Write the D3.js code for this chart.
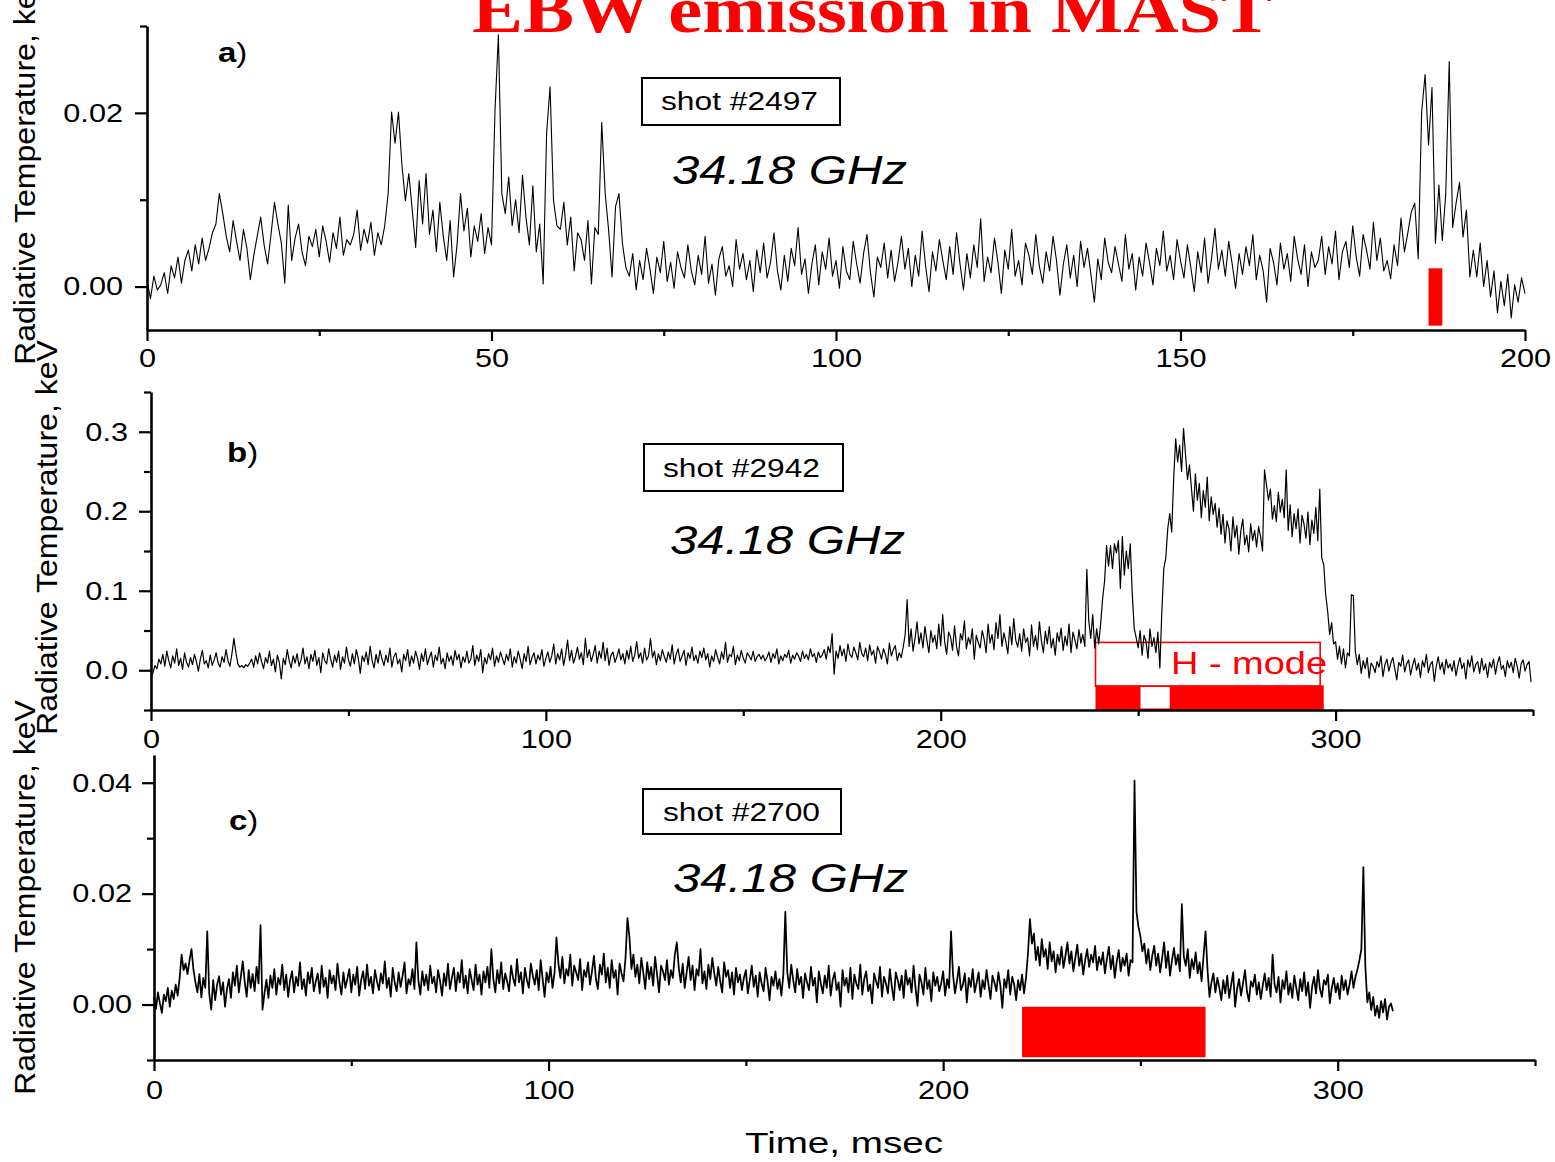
<!DOCTYPE html>
<html>
<head>
<meta charset="utf-8">
<script src="https://cdn.jsdelivr.net/npm/d3@7"></script>
<style>
  body { margin: 0; background: #fff; }
  svg { display: block; }
</style>
</head>
<body>
<svg id="chart" width="1555" height="1162"></svg>
<script>
const DT = 0.5;

// Shot #2497, radiative temperature in units of 1e-4 keV (t = 0 ... 200 msec)
const shot2497 = [
  8, -14, 12, -4, 2, 16, -8, 24, 10, 34, 4, 30, 42, 18, 48, 26, 56, 30, 44, 62,
  72, 107, 84, 58, 40, 76, 52, 30, 66, 44, 8, 36, 58, 80, 48, 26, 60, 97, 72, 50,
  4, 94, 30, 56, 72, 40, 24, 58, 46, 66, 34, 70, 52, 28, 62, 44, 80, 36, 54, 48,
  60, 88, 42, 66, 50, 74, 36, 62, 48, 70, 107, 201, 165, 201, 140, 99, 130, 88, 45, 122,
  72, 130, 60, 88, 40, 97, 58, 30, 76, 11, 48, 107, 64, 90, 34, 70, 52, 84, 38, 68,
  48, 201, 290, 107, 84, 126, 70, 100, 62, 128, 80, 48, 116, 40, 72, 3, 177, 230, 99, 70,
  66, 97, 48, 80, 18, 62, 54, 30, 76, 3, 68, 60, 189, 107, 65, 11, 92, 107, 50, 22,
  12, 38, -4, 30, 8, 44, 20, -8, 34, 16, 52, 6, 28, -2, 40, 22, 10, 48, 18, 2,
  36, 14, 58, 4, 26, -10, 32, 46, 12, 24, 0, 54, 20, 38, 8, 30, -6, 42, 16, 50,
  10, 28, 62, 18, -4, 36, 6, 44, 24, 68, 14, 32, -8, 26, 48, 2, 40, 20, 56, 12,
  30, -2, 46, 18, 8, 52, 26, 4, 38, 60, 16, -12, 34, 22, 50, 10, 42, 6, 28, 58,
  20, 44, 0, 36, 12, 64, 24, -6, 40, 18, 54, 30, 8, 46, 14, 62, 26, -4, 38, 10,
  48, 22, 78, 6, 34, 16, 56, 28, -8, 42, 20, 66, 12, 30, 2, 50, 36, 14, 60, 24,
  4, 40, 18, 58, 30, -10, 26, 48, 10, 36, 0, 52, 22, 44, 14, -18, 32, 8, 56, 28,
  16, 46, 26, 6, 60, 20, 38, -4, 34, 12, 50, 28, 2, 44, 24, 64, 18, 36, 8, 54,
  30, 10, 48, 22, -6, 40, 16, 56, 4, 32, 67, 20, 42, 12, 52, 26, -2, 38, 14, 46,
  24, 60, 8, 36, 18, -18, 44, 28, 2, 50, 20, 38, 6, 58, 32, 14, 48, 0, 40, 22,
  30, 58, 14, 46, 26, 64, 8, 40, 52, 22, 70, 34, 12, 60, 42, 20, 74, 30, 56, 18,
  30, 9, 48, 24, 79, 40, 62, 86, 96, 32, 201, 244, 163, 229, 50, 117, 53, 107, 259, 68,
  96, 120, 57, 88, 11, 42, 11, 50, 0, 30, -12, 18, -30, 6, -22, 14, -36, 2, -18, 10,
  -8
];

// Shot #2942, radiative temperature in units of 1e-3 keV (t = 0 ... 349.5 msec)
const shot2942 = [
  -8, -3, 6, 2, 14, 8, 20, 5, 24, 12, 3, 18, 9, 27, 6, 15, 1, 22, 10, 4,
  16, 7, 20, 11, -1, 14, 25, 8, 12, 3, 19, 6, 13, 22, 9, 4, 17, 10, 26, 12,
  5, 21, 40, 22, 8, 4, 6, 3, 7, 5, 9, 14, 4, 18, 8, 22, 11, 2, 16, 9,
  24, 6, 14, -2, 19, 10, -11, 15, 7, 26, 12, 3, 18, 9, 21, 5, 13, 28, 8, 17,
  2, 20, 11, 25, 6, 16, -3, 22, 12, 8, 27, 14, 4, 19, 10, 24, 1, 17, 9, 29,
  13, 5, 21, 8, 26, 15, -4, 18, 11, 23, 7, 30, 12, 3, 20, 9, 25, 14, 6, 19,
  10, 28, 4, 17, 22, 8, 14, -2, 20, 12, 26, 5, 18, 9, 24, 15, 1, 21, 11, 27,
  7, 16, 23, 4, 19, 12, 29, 8, 15, 2, 22, 11, 18, 6, 25, 13, 20, 3, 17, 10,
  24, 9, 14, 31, 6, 19, 11, 26, -3, 16, 8, 21, 13, 28, 5, 18, 10, 23, 15, 7,
  20, 12, 27, 4, 17, 9, 24, 14, 2, 21, 11, 30, 7, 16, 22, 8, 19, 13, 26, 5,
  15, 23, 10, 18, 33, 8, 21, 13, 27, 6, 19, 38, 12, 25, 9, 17, 29, 14, 22, 7,
  40, 16, 26, 11, 20, 31, 9, 24, 15, 35, 12, 28, 6, 19, 23, 10, 17, 27, 13, 21,
  8, 25, 14, 30, 11, 19, 36, 15, 22, 9, 28, 13, 18, 40, 16, 24, 7, 21, 12, 26,
  17, 10, 23, 14, 32, 8, 20, 27, 11, 18, 25, 6, 22, 15, 29, 12, 19, 9, 24, 16,
  28, 13, 21, 4, 18, 11, 26, 16, 8, 23, 14, 35, 10, 20, 17, 30, 7, 19, 12, 25,
  15, 9, 22, 18, 13, 24, 11, 17, 20, 14, 19, 12, 16, 23, 10, 21, 15, 27, 8, 18,
  12, 20, 16, 25, 9, 19, 14, 22, 18, 11, 24, 15, 20, 13, 27, 17, 21, 10, 23, 16,
  19, 26, 14, 30, 22, 46, -5, 24, 15, 31, 18, 27, 11, 33, 20, 16, 29, 22, 13, 35,
  21, 17, 28, 12, 32, 19, 25, 9, 30, 23, 14, 27, 20, 8, 34, 18, 26, 31, 12, 22,
  16, 29, 45, 89, 30, 52, 24, 40, 61, 33, 47, 28, 55, 38, 22, 50, 35, 44, 27, 58,
  31, 70, 36, 20, 48, 42, 25, 56, 30, 18, 46, 38, 62, 27, 41, 33, 52, 14, 44, 35,
  28, 50, 39, 22, 58, 34, 45, 26, 60, 40, 70, 30, 47, 36, 21, 55, 32, 65, 38, 29,
  46, 24, 52, 35, 41, 18, 57, 30, 44, 26, 61, 37, 22, 49, 33, 55, 28, 40, 19, 47,
  36, 53, 25, 43, 31, 58, 22, 48, 38, 27, 51, 34, 45, 30, 127, 62, 40, 70, 28, 52,
  33, 58, 90, 112, 157, 131, 157, 128, 159, 148, 163, 103, 168, 120, 150, 128, 159, 97, 53, 41,
  28, 50, 19, 44, 36, 15, 52, 30, 41, 22, 48, 3, 74, 128, 141, 178, 197, 174, 241, 291,
  262, 283, 250, 304, 271, 240, 258, 229, 200, 247, 214, 235, 192, 226, 205, 243, 188, 218, 196, 210,
  180, 204, 171, 196, 160, 188, 178, 150, 193, 167, 182, 146, 175, 190, 158, 170, 149, 184, 163, 176,
  155, 181, 168, 150, 252, 233, 214, 228, 190, 207, 187, 224, 199, 215, 192, 252, 176, 208, 168, 197,
  178, 203, 160, 195, 184, 166, 199, 158, 189, 172, 205, 163, 228, 141, 133, 95, 74, 45, 60, 33,
  36, 14, 30, 8, 27, 3, 22, 18, 95, 94, 24, 7, 20, -4, 12, 2, 16, -10, 9, 5,
  -3, 11, 4, 18, -8, 7, 14, -1, 9, 16, 2, -12, 10, 5, 19, -2, 8, 13, -6, 6,
  15, 0, 9, -9, 12, 4, 20, -3, 7, 11, -14, 5, 17, 1, 10, -5, 14, 3, 8, -1,
  12, -7, 6, 16, 2, 9, -11, 13, 4, 18, -2, 7, 11, -4, 15, 0, 8, -9, 10, 3,
  14, -5, 9, 17, 1, 6, -8, 12, 3, 10, -3, 15, 5, -10, 8, 13, -1, 7, 11, -15
];

// Shot #2700, radiative temperature in units of 1e-4 keV (t = 0 ... 314 msec)
const shot2700 = [
  14, -8, 22, 2, -15, 18, 6, 30, -4, 25, 10, 36, 16, 48, 90, 62, 74, 55, 80, 100,
  63, 40, 22, 55, 13, 48, 30, 132, 20, -9, 44, 8, 36, 51, 18, 40, -4, 28, 46, 12,
  58, 34, 70, 22, 50, 78, 40, 14, 62, 30, 55, 24, 68, 38, 143, -9, 20, 45, 12, 52,
  30, 64, 18, 48, 36, 72, 26, 54, 14, 44, 60, 22, 50, 34, 76, 28, 46, 16, 58, 38,
  66, 24, 42, 56, 20, 70, 32, 48, 12, 62, 38, 52, 26, 74, 40, 18, 58, 30, 46, 64,
  22, 54, 36, 68, 16, 44, 60, 28, 72, 34, 50, 20, 62, 42, 26, 56, 38, 78, 30, 48,
  14, 66, 40, 24, 58, 32, 52, 76, 20, 46, 36, 64, 28, 112, 44, 18, 60, 34, 54, 26,
  70, 38, 50, 22, 62, 42, 16, 56, 34, 74, 28, 48, 66, 24, 58, 40, 80, 30, 52, 20,
  64, 44, 26, 72, 36, 54, 18, 60, 40, 68, 30, 100, 46, 22, 62, 38, 76, 28, 56, 42,
  24, 70, 48, 34, 82, 40, 58, 20, 66, 44, 30, 74, 52, 36, 62, 26, 80, 46, 14, 58,
  40, 68, 30, 56, 121, 74, 48, 86, 38, 64, 52, 90, 34, 70, 58, 44, 82, 26, 62, 50,
  76, 36, 60, 88, 46, 28, 72, 54, 92, 40, 66, 30, 80, 48, 62, 18, 74, 56, 42, 84,
  156, 121, 64, 90, 50, 72, 38, 84, 58, 28, 76, 46, 68, 34, 86, 54, 22, 70, 60, 44,
  80, 36, 62, 48, 90, 112, 66, 40, 74, 30, 58, 86, 44, 70, 26, 64, 52, 100, 38, 60,
  28, 72, 46, 84, 56, 34, 68, 42, 22, 76, 50, 62, 30, 58, 18, 66, 40, 54, 26, 48,
  62, 20, 44, 70, 32, 52, 14, 58, 38, 24, 66, 42, 8, 50, 34, 60, 28, 46, 16, 54,
  167, 58, 30, 72, 44, 22, 64, 36, 50, 12, 56, 40, 26, 68, 34, 48, 4, 60, 38, 20,
  52, 30, 70, 16, 44, 58, 26, 40, -4, 62, 34, 48, 22, 66, 10, 54, 38, 28, 72, 18,
  46, 60, 24, 36, 2, 56, 42, 30, 68, 14, 50, 38, 20, 64, 32, 8, 58, 44, 26, 52,
  12, 62, 36, 48, 22, 70, 30, -2, 54, 40, 18, 66, 28, 44, 6, 58, 34, 50, 24, 38,
  60, 16, 46, 30, 132, 54, 20, 42, 68, 26, 36, 56, 4, 48, 32, 64, 22, 40, 58, 14,
  44, 28, 62, 36, 10, 52, 40, 24, 58, 34, -6, 46, 30, 62, 18, 50, 36, 8, 44, 26,
  54, 20, 48, 92, 154, 110, 128, 80, 104, 70, 118, 86, 100, 64, 112, 78, 96, 58, 90, 72,
  104, 66, 88, 112, 74, 96, 60, 84, 108, 70, 92, 54, 80, 100, 68, 90, 76, 106, 62, 86,
  72, 94, 56, 82, 104, 64, 88, 48, 78, 98, 60, 84, 70, 92, 52, 80, 76, 404, 167, 140,
  123, 96, 110, 74, 100, 62, 88, 106, 70, 92, 58, 84, 112, 66, 96, 52, 80, 102, 72, 90,
  60, 181, 86, 70, 100, 48, 82, 64, 94, 56, 76, 42, 88, 132, 63, 14, 40, 56, 22, 48,
  30, 8, 44, 20, 52, 12, 36, 58, -4, 28, 46, 16, 38, 62, 24, 6, 42, 32, 54, 18,
  40, 10, 34, 56, 26, 48, 14, 90, 36, 22, 50, 4, 44, 28, 60, 18, 38, 12, 52, 30,
  8, 46, 24, 58, 16, 40, -6, 32, 50, 20, 62, 28, 14, 44, 36, 54, 2, 30, 48, 22,
  38, 10, 52, 26, 44, 18, 36, 60, 30, 50, 63, 80, 100, 248, 69, 4, 22, -10, 14, -20,
  -2, -24, 6, -14, 10, -27, -4, 2, -12
];

// Axis ticks
const xMajorA = [0, 50, 100, 150, 200];
const xMinorA = [25, 75, 125, 175];
const yMajorA = [0, 0.02];
const yMinorA = [0.01, 0.03];

const xMajorBC = [0, 100, 200, 300];
const xMinorBC = [50, 150, 250, 350];
const yMajorB = [0, 0.1, 0.2, 0.3];
const yMinorB = [-0.05, 0.05, 0.15, 0.25, 0.35];
const yMajorC = [0, 0.02, 0.04];
const yMinorC = [-0.01, 0.01, 0.03];

// Marked time windows (msec) with their vertical extent (keV)
const markA = [{ t0: 186, t1: 188, lo: -0.0045, hi: 0.0021 }];
const hmodeB = [{ t0: 239.2, t1: 297.0, lo: -0.05, hi: -0.019 }];
const hmodeGapB = [{ t0: 250.6, t1: 258.0, lo: -0.048, hi: -0.021 }];
const hmodeBoxB = [{ t0: 239.2, t1: 296.1, lo: -0.02, hi: 0.035 }];
const hmodeC = [{ t0: 220, t1: 266.5, lo: -0.0095, hi: -0.0004 }];

const SANS = "'Liberation Sans', Arial, Helvetica, sans-serif";
const SERIF = "'Liberation Serif', 'Times New Roman', serif";
const SX = 1.18;   // horizontal stretch of the lettering
const RED = "#ff0000";

const svg = d3.select("#chart");
svg.append("rect").attr("width", 1555).attr("height", 1162).attr("fill", "#fff");

function stretchText(sel) {
  sel.each(function () {
    const t = d3.select(this);
    const x = +t.attr("x") || 0;
    t.attr("x", x / SX).attr("transform", `scale(${SX},1)`);
  });
}

function drawPanel(p) {
  const x = d3.scaleLinear().domain(p.xDomain).range([p.left, p.right]);
  const y = d3.scaleLinear().domain(p.yDomain).range([p.bottom, p.top]);
  const g = svg.append("g");

  // marked windows, drawn under the trace
  g.selectAll("rect.mark").data(p.marks).join("rect")
    .attr("x", d => x(d.t0)).attr("width", d => x(d.t1) - x(d.t0))
    .attr("y", d => y(d.hi)).attr("height", d => y(d.lo) - y(d.hi))
    .attr("fill", RED);
  if (p.gaps) {
    g.selectAll("rect.gap").data(p.gaps).join("rect")
      .attr("x", d => x(d.t0)).attr("width", d => x(d.t1) - x(d.t0))
      .attr("y", d => y(d.hi)).attr("height", d => y(d.lo) - y(d.hi))
      .attr("fill", "#fff");
  }
  if (p.boxes) {
    g.selectAll("rect.box").data(p.boxes).join("rect")
      .attr("x", d => x(d.t0)).attr("width", d => x(d.t1) - x(d.t0))
      .attr("y", d => y(d.hi)).attr("height", d => y(d.lo) - y(d.hi))
      .attr("fill", "none").attr("stroke", RED).attr("stroke-width", 1.6);
  }

  // trace
  const line = d3.line().x((d, i) => x(i * DT)).y(d => y(d * p.unit));
  g.append("path").datum(p.values)
    .attr("d", line).attr("fill", "none")
    .attr("stroke", "#000").attr("stroke-width", p.lw)
    .attr("stroke-linejoin", "round");

  // x axis
  const gxMinor = g.append("g").attr("transform", `translate(0,${p.bottom})`)
    .call(d3.axisBottom(x).tickValues(p.xMinor).tickSize(6).tickSizeOuter(0).tickFormat(""));
  gxMinor.select(".domain").remove();
  const gx = g.append("g").attr("transform", `translate(0,${p.bottom})`)
    .call(d3.axisBottom(x).tickValues(p.xMajor).tickSize(11).tickSizeOuter(0)
      .tickPadding(p.xPad).tickFormat(d3.format("d")));

  // y axis
  const gyMinor = g.append("g").attr("transform", `translate(${p.left},0)`)
    .call(d3.axisLeft(y).tickValues(p.yMinor).tickSize(7).tickSizeOuter(0).tickFormat(""));
  gyMinor.select(".domain").remove();
  const gy = g.append("g").attr("transform", `translate(${p.left},0)`)
    .call(d3.axisLeft(y).tickValues(p.yMajor).tickSize(12).tickSizeOuter(0)
      .tickPadding(p.yPad).tickFormat(d3.format(p.yFormat)));

  [gx, gy, gxMinor, gyMinor].forEach(a => {
    a.selectAll(".domain").attr("stroke", "#000").attr("stroke-width", 2.6);
    a.selectAll(".tick line").attr("stroke", "#000").attr("stroke-width", 2.2);
    a.selectAll("text").attr("font-family", SANS).attr("font-size", 26).attr("fill", "#000");
  });
  stretchText(gx.selectAll("text"));
  stretchText(gy.selectAll("text"));

  // y-axis title
  g.append("text")
    .attr("transform", `translate(${p.titleX},${p.titleY}) rotate(-90)`)
    .attr("font-family", SANS).attr("font-size", 30)
    .attr("textLength", 395).attr("lengthAdjust", "spacingAndGlyphs")
    .text("Radiative Temperature, keV");

  // panel letter
  const lt = g.append("text")
    .attr("transform", `translate(${p.letter[0]},${p.letter[1]}) scale(1.18,1)`)
    .attr("font-family", SANS).attr("font-size", 28);
  lt.append("tspan").attr("font-weight", "bold").text(p.letterText);
  lt.append("tspan").text(")");

  // shot box
  g.append("rect").attr("x", p.shotBox[0]).attr("y", p.shotBox[1])
    .attr("width", p.shotBox[2]).attr("height", p.shotBox[3])
    .attr("fill", "#fff").attr("stroke", "#000").attr("stroke-width", 2);
  g.append("text").attr("x", p.shotText[0]).attr("y", p.shotText[1])
    .attr("font-family", SANS).attr("font-size", 25)
    .attr("textLength", 157).attr("lengthAdjust", "spacingAndGlyphs")
    .text(p.shot);

  // frequency
  g.append("text").attr("x", p.freq[0]).attr("y", p.freq[1])
    .attr("font-family", SANS).attr("font-style", "italic").attr("font-size", 40)
    .attr("textLength", 235).attr("lengthAdjust", "spacingAndGlyphs")
    .text("34.18 GHz");

  return { x, y, g };
}

drawPanel({
  values: shot2497, unit: 1e-4, lw: 1.1,
  xDomain: [0, 200], yDomain: [-0.005, 0.030],
  left: 147, right: 1525, top: 26, bottom: 330,
  xMajor: xMajorA, xMinor: xMinorA, yMajor: yMajorA, yMinor: yMinorA,
  yFormat: ".2f", xPad: 8, yPad: 12,
  marks: markA,
  titleX: 35, titleY: 365,
  letter: [218, 62], letterText: "a",
  shotBox: [642, 78, 198, 47], shotText: [661, 110], shot: "shot #2497",
  freq: [672, 184]
});

const pb = drawPanel({
  values: shot2942, unit: 1e-3, lw: 1.2,
  xDomain: [0, 350], yDomain: [-0.05, 0.35],
  left: 151, right: 1533, top: 392, bottom: 710,
  xMajor: xMajorBC, xMinor: xMinorBC, yMajor: yMajorB, yMinor: yMinorB,
  yFormat: ".1f", xPad: 9, yPad: 11,
  marks: hmodeB, gaps: hmodeGapB, boxes: hmodeBoxB,
  titleX: 57, titleY: 735,
  letter: [227, 462], letterText: "b",
  shotBox: [644, 444, 199, 47], shotText: [663, 477], shot: "shot #2942",
  freq: [670, 554]
});

pb.g.append("text").attr("x", 1171).attr("y", 674)
  .attr("font-family", SANS).attr("font-size", 31).attr("fill", RED)
  .attr("textLength", 156).attr("lengthAdjust", "spacingAndGlyphs")
  .text("H - mode");

drawPanel({
  values: shot2700, unit: 1e-4, lw: 1.75,
  xDomain: [0, 350], yDomain: [-0.01, 0.045],
  left: 154, right: 1535, top: 755, bottom: 1060,
  xMajor: xMajorBC, xMinor: xMinorBC, yMajor: yMajorC, yMinor: yMinorC,
  yFormat: ".2f", xPad: 10, yPad: 10,
  marks: hmodeC,
  titleX: 35, titleY: 1095,
  letter: [229, 830], letterText: "c",
  shotBox: [643, 789, 198, 45], shotText: [663, 821], shot: "shot #2700",
  freq: [673, 892]
});

// x-axis title
svg.append("text").attr("x", 745).attr("y", 1153)
  .attr("font-family", SANS).attr("font-size", 29)
  .attr("textLength", 198).attr("lengthAdjust", "spacingAndGlyphs")
  .text("Time, msec");

// heading
svg.append("text").attr("x", 472).attr("y", 32)
  .attr("font-family", SERIF).attr("font-weight", "bold").attr("font-size", 66)
  .attr("fill", RED)
  .attr("textLength", 800).attr("lengthAdjust", "spacingAndGlyphs")
  .text("EBW emission in MAST");
</script>
</body>
</html>
